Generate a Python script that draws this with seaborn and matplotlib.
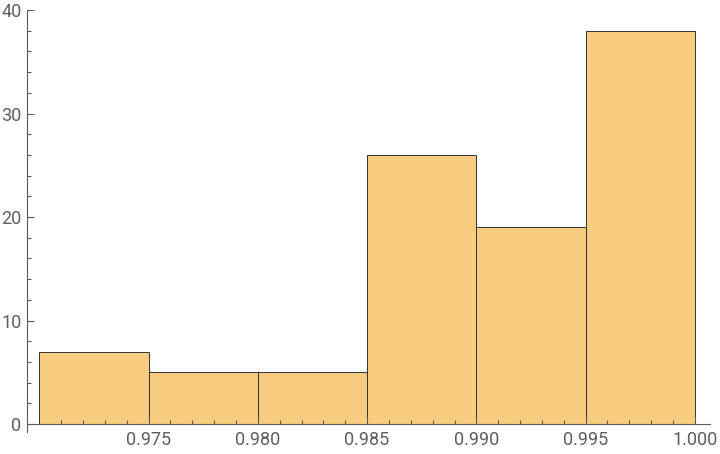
import numpy as np
import matplotlib
matplotlib.use("Agg")
import matplotlib.pyplot as plt
import seaborn as sns
from matplotlib.ticker import FixedLocator

# Histogram data
bin_edges = [0.970, 0.975, 0.980, 0.985, 0.990, 0.995, 1.000]
counts = [7, 5, 5, 26, 19, 38]
x_major = [0.975, 0.980, 0.985, 0.990, 0.995, 1.000]
x_labels = ["0.975", "0.980", "0.985", "0.990", "0.995", "1.000"]
y_major = [0, 10, 20, 30, 40]

centers = [(a + b) / 2 for a, b in zip(bin_edges[:-1], bin_edges[1:])]

sns.set_style("white")
plt.rcParams["font.family"] = ["Roboto", "DejaVu Sans"]

fig = plt.figure(figsize=(7.2, 4.54), dpi=100)
ax = fig.add_axes([27 / 720, 22 / 454, 683 / 720, 422 / 454])

sns.histplot(x=centers, weights=counts, bins=bin_edges, ax=ax,
             color="#f9cd80", alpha=1.0, edgecolor="#333333", linewidth=0.7)

ax.set_xlim(0.96944, 1.00069)
ax.set_ylim(-0.77, 40)

axis_col = "#5a5a5a"
for s in ["top", "right"]:
    ax.spines[s].set_visible(False)
ax.spines["bottom"].set_position(("data", 0))
ax.spines["bottom"].set_color(axis_col)
ax.spines["left"].set_color(axis_col)
ax.spines["bottom"].set_linewidth(0.8)
ax.spines["left"].set_linewidth(0.8)
ax.set_axisbelow(False)

ax.set_xticks(x_major)
ax.set_xticklabels(x_labels)
x_minor = [round(0.971 + 0.001 * i, 3) for i in range(29)]
x_minor = [v for v in x_minor if round(v * 1000) % 5 != 0]
ax.xaxis.set_minor_locator(FixedLocator(x_minor))
ax.set_yticks(y_major)
y_minor = [v for v in range(2, 40, 2) if v % 10 != 0]
ax.yaxis.set_minor_locator(FixedLocator(y_minor))

ax.tick_params(axis="both", which="both", bottom=True, left=True)
ax.tick_params(axis="both", which="major", direction="in", length=5,
               width=0.8, color=axis_col, labelcolor="#5f5f5f", labelsize=13)
ax.tick_params(axis="both", which="minor", direction="in", length=3,
               width=0.8, color=axis_col)
ax.tick_params(axis="x", which="major", pad=5)
ax.tick_params(axis="y", which="major", pad=4)

ax.set_xlabel("")
ax.set_ylabel("")

fig.savefig("out.png", dpi=100)
